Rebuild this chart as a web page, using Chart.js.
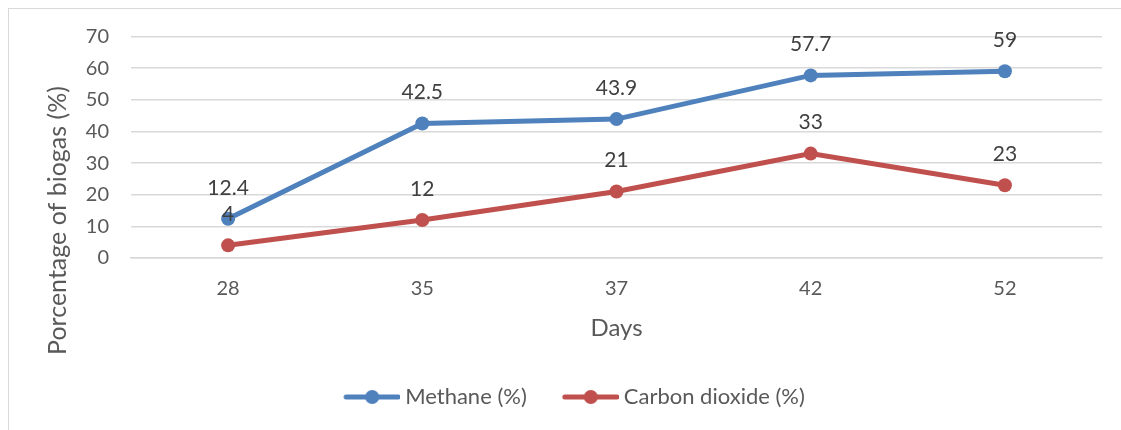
<!DOCTYPE html>
<html>
<head>
<meta charset="utf-8">
<script src="https://cdn.jsdelivr.net/npm/chart.js@4.4.1/dist/chart.umd.min.js"></script>
<style>
  html, body { margin: 0; padding: 0; background: #fff; overflow: hidden; }
  #frame {
    position: absolute; left: 8px; top: 8px;
    width: 1128px; height: 440px;
    border: 1.5px solid #d9d9d9;
  }
  #wrap { position: absolute; left: 0; top: 0; width: 1128px; height: 422px; }
</style>
</head>
<body>
<div id="frame"><div id="wrap"><canvas id="chart"></canvas></div></div>
<script>
  // chart data
  var days = ['28', '35', '37', '42', '52'];
  var methane = [12.4, 42.5, 43.9, 57.7, 59];
  var carbonDioxide = [4, 12, 21, 33, 23];
  var yTicks = [0, 10, 20, 30, 40, 50, 60, 70];

  var blue = '#4f81bd';
  var red = '#c0504d';
  var fontFamily = 'Lato, "Open Sans", sans-serif';

  // line + marker icon like the Excel legend (shifted right to sit near its text)
  function legendIcon(color) {
    var c = document.createElement('canvas');
    c.width = 68; c.height = 16;
    var g = c.getContext('2d');
    g.strokeStyle = color;
    g.lineWidth = 5;
    g.lineCap = 'round';
    g.beginPath(); g.moveTo(14, 8); g.lineTo(66, 8); g.stroke();
    g.fillStyle = color;
    g.beginPath(); g.arc(40, 8, 7, 0, Math.PI * 2); g.fill();
    return c;
  }

  var valueLabels = {
    id: 'valueLabels',
    afterDatasetsDraw: function (chart) {
      var ctx = chart.ctx;
      ctx.save();
      ctx.font = '21px ' + fontFamily;
      ctx.fillStyle = '#404040';
      ctx.textAlign = 'center';
      ctx.textBaseline = 'middle';
      chart.data.datasets.forEach(function (ds, i) {
        chart.getDatasetMeta(i).data.forEach(function (pt, j) {
          ctx.fillText(String(ds.data[j]), pt.x, pt.y - 31);
        });
      });
      ctx.restore();
    }
  };

  // y axis title sits lower than the plot centre, as in the original
  var yTitle = {
    id: 'yTitle',
    afterDraw: function (chart) {
      var ctx = chart.ctx;
      ctx.save();
      ctx.setTransform(chart.currentDevicePixelRatio, 0, 0, chart.currentDevicePixelRatio, 0, 0);
      ctx.translate(49, chart.chartArea.top + 184);
      ctx.rotate(-Math.PI / 2);
      ctx.font = '25px ' + fontFamily;
      ctx.fillStyle = '#595959';
      ctx.textAlign = 'center';
      ctx.textBaseline = 'middle';
      ctx.fillText('Porcentage of biogas (%)', 0, 0);
      ctx.restore();
    }
  };

  new Chart(document.getElementById('chart').getContext('2d'), {
    type: 'line',
    data: {
      labels: days,
      datasets: [{
        label: 'Methane (%)',
        data: methane,
        borderColor: blue,
        backgroundColor: blue,
        borderWidth: 5,
        pointRadius: 7,
        pointHoverRadius: 7,
        pointBorderWidth: 0,
        tension: 0
      }, {
        label: 'Carbon dioxide (%)',
        data: carbonDioxide,
        borderColor: red,
        backgroundColor: red,
        borderWidth: 5,
        pointRadius: 7,
        pointHoverRadius: 7,
        pointBorderWidth: 0,
        tension: 0
      }]
    },
    options: {
      responsive: true,
      maintainAspectRatio: false,
      animation: false,
      layout: { padding: { top: 27.5, right: 35, bottom: 13, left: 32 } },
      scales: {
        x: {
          offset: true,
          afterFit: function (scale) { scale.height = 98; },
          grid: { display: false, drawTicks: false },
          border: { display: true, color: '#d9d9d9', width: 1.5 },
          ticks: { color: '#595959', font: { family: fontFamily, size: 20 }, padding: 19 },
          title: {
            display: true, text: 'Days', color: '#595959',
            font: { family: fontFamily, size: 24 }, padding: { top: 0, bottom: 13 }
          }
        },
        y: {
          min: 0,
          max: 70,
          afterBuildTicks: function (scale) {
            scale.ticks = yTicks.map(function (v) { return { value: v }; });
          },
          afterFit: function (scale) {
            scale.width = 90;
            scale.paddingTop = 12;
            scale.paddingBottom = 12;
          },
          grid: { color: '#d9d9d9', lineWidth: 1.5, drawTicks: false },
          border: { display: false },
          ticks: { color: '#595959', font: { family: fontFamily, size: 20 }, padding: 22 }
        }
      },
      plugins: {
        legend: {
          position: 'bottom',
          labels: {
            usePointStyle: true,
            pointStyleWidth: 56,
            color: '#595959',
            font: { family: fontFamily, size: 22 },
            padding: 30,
            generateLabels: function (chart) {
              return chart.data.datasets.map(function (ds, i) {
                return {
                  text: ds.label,
                  pointStyle: legendIcon(ds.borderColor),
                  fillStyle: ds.borderColor,
                  strokeStyle: ds.borderColor,
                  lineWidth: 0,
                  fontColor: '#595959',
                  datasetIndex: i
                };
              });
            }
          }
        },
        tooltip: { enabled: false }
      }
    },
    plugins: [valueLabels, yTitle]
  });
</script>
</body>
</html>
